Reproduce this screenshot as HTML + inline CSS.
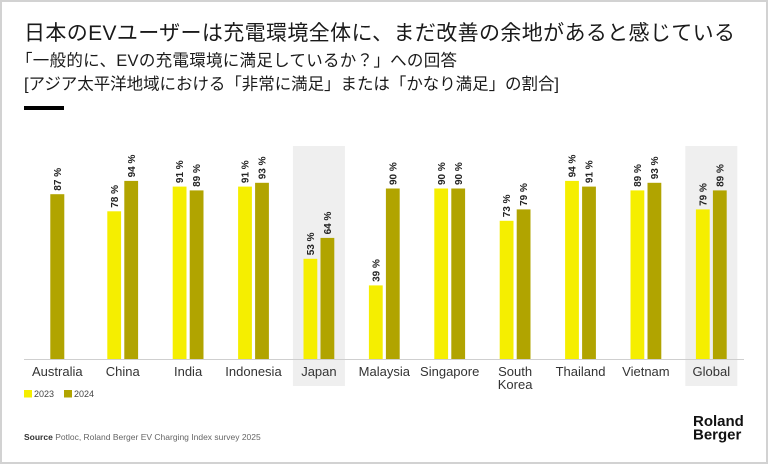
<!DOCTYPE html>
<html>
<head>
<meta charset="utf-8">
<style>
  html, body { margin: 0; padding: 0; background: #fff; }
  body { width: 768px; height: 464px; overflow: hidden; }
  svg { display: block; font-family: "Liberation Sans", "Noto Sans CJK JP", sans-serif; }
  .cat { font-size: 13px; fill: #333; text-anchor: middle; }
  .val { font-size: 10px; font-weight: bold; fill: #222; }
  .y23 { fill: #f5ee00; }
  .y24 { fill: #b1a400; }
</style>
</head>
<body>
<svg width="768" height="464" viewBox="0 0 768 464" xmlns="http://www.w3.org/2000/svg">
  <rect x="0" y="0" width="768" height="464" fill="#fff"/>
  <rect x="1" y="1" width="766" height="462" fill="none" stroke="#d2d2d2" stroke-width="2"/>

  <!-- Titles -->
  <text x="24" y="40" font-size="21" fill="#1a1a1a" textLength="711" lengthAdjust="spacing">日本のEVユーザーは充電環境全体に、まだ改善の余地があると感じている</text>
  <text x="16" y="66" font-size="16.5" fill="#1a1a1a" textLength="441" lengthAdjust="spacing">「一般的に、EVの充電環境に満足しているか？」への回答</text>
  <text x="24" y="89.5" font-size="16.5" fill="#1a1a1a" textLength="535" lengthAdjust="spacing">[アジア太平洋地域における「非常に満足」または「かなり満足」の割合]</text>
  <rect x="24" y="106" width="40" height="4" fill="#000"/>

  <!-- Highlight backgrounds -->
  <rect x="292.9" y="146" width="52" height="240" fill="#efefef"/>
  <rect x="685.3" y="146" width="52" height="240" fill="#efefef"/>

  <!-- Bars -->
  <!-- Australia -->
  <rect class="y24" x="50.3" y="194.2" width="14" height="165.3"/>
  <!-- China -->
  <rect class="y23" x="107.3" y="211.3" width="13.8" height="148.2"/>
  <rect class="y24" x="124.3" y="180.9" width="13.8" height="178.6"/>
  <!-- India -->
  <rect class="y23" x="172.7" y="186.6" width="13.8" height="172.9"/>
  <rect class="y24" x="189.7" y="190.4" width="13.8" height="169.1"/>
  <!-- Indonesia -->
  <rect class="y23" x="238.1" y="186.6" width="13.8" height="172.9"/>
  <rect class="y24" x="255.1" y="182.8" width="13.8" height="176.7"/>
  <!-- Japan -->
  <rect class="y23" x="303.5" y="258.8" width="13.8" height="100.7"/>
  <rect class="y24" x="320.5" y="237.9" width="13.8" height="121.6"/>
  <!-- Malaysia -->
  <rect class="y23" x="368.9" y="285.4" width="13.8" height="74.1"/>
  <rect class="y24" x="385.9" y="188.5" width="13.8" height="171"/>
  <!-- Singapore -->
  <rect class="y23" x="434.3" y="188.5" width="13.8" height="171"/>
  <rect class="y24" x="451.3" y="188.5" width="13.8" height="171"/>
  <!-- South Korea -->
  <rect class="y23" x="499.7" y="220.8" width="13.8" height="138.7"/>
  <rect class="y24" x="516.7" y="209.4" width="13.8" height="150.1"/>
  <!-- Thailand -->
  <rect class="y23" x="565.1" y="180.9" width="13.8" height="178.6"/>
  <rect class="y24" x="582.1" y="186.6" width="13.8" height="172.9"/>
  <!-- Vietnam -->
  <rect class="y23" x="630.5" y="190.4" width="13.8" height="169.1"/>
  <rect class="y24" x="647.5" y="182.8" width="13.8" height="176.7"/>
  <!-- Global -->
  <rect class="y23" x="695.9" y="209.4" width="13.8" height="150.1"/>
  <rect class="y24" x="712.9" y="190.4" width="13.8" height="169.1"/>

  <!-- Axis -->
  <line x1="24" y1="359.5" x2="744" y2="359.5" stroke="#cfcfcf" stroke-width="1"/>

  <!-- Value labels -->
  <text class="val" transform="translate(60.9,190.7) rotate(-90)">87 %</text>
  <text class="val" transform="translate(117.8,207.8) rotate(-90)">78 %</text>
  <text class="val" transform="translate(134.8,177.4) rotate(-90)">94 %</text>
  <text class="val" transform="translate(183.2,183.1) rotate(-90)">91 %</text>
  <text class="val" transform="translate(200.2,186.9) rotate(-90)">89 %</text>
  <text class="val" transform="translate(248.6,183.1) rotate(-90)">91 %</text>
  <text class="val" transform="translate(265.6,179.3) rotate(-90)">93 %</text>
  <text class="val" transform="translate(314,255.3) rotate(-90)">53 %</text>
  <text class="val" transform="translate(331,234.4) rotate(-90)">64 %</text>
  <text class="val" transform="translate(379.4,281.9) rotate(-90)">39 %</text>
  <text class="val" transform="translate(396.4,185) rotate(-90)">90 %</text>
  <text class="val" transform="translate(444.8,185) rotate(-90)">90 %</text>
  <text class="val" transform="translate(461.8,185) rotate(-90)">90 %</text>
  <text class="val" transform="translate(510.2,217.3) rotate(-90)">73 %</text>
  <text class="val" transform="translate(527.2,205.9) rotate(-90)">79 %</text>
  <text class="val" transform="translate(575.6,177.4) rotate(-90)">94 %</text>
  <text class="val" transform="translate(592.6,183.1) rotate(-90)">91 %</text>
  <text class="val" transform="translate(641,186.9) rotate(-90)">89 %</text>
  <text class="val" transform="translate(658,179.3) rotate(-90)">93 %</text>
  <text class="val" transform="translate(706.4,205.9) rotate(-90)">79 %</text>
  <text class="val" transform="translate(723.4,186.9) rotate(-90)">89 %</text>

  <!-- Category labels -->
  <text class="cat" x="57.3" y="376">Australia</text>
  <text class="cat" x="122.7" y="376">China</text>
  <text class="cat" x="188.1" y="376">India</text>
  <text class="cat" x="253.5" y="376">Indonesia</text>
  <text class="cat" x="318.9" y="376">Japan</text>
  <text class="cat" x="384.3" y="376">Malaysia</text>
  <text class="cat" x="449.7" y="376">Singapore</text>
  <text class="cat" x="515.1" y="376">South</text>
  <text class="cat" x="515.1" y="389">Korea</text>
  <text class="cat" x="580.5" y="376">Thailand</text>
  <text class="cat" x="645.9" y="376">Vietnam</text>
  <text class="cat" x="711.3" y="376">Global</text>

  <!-- Legend -->
  <rect x="24" y="390" width="8" height="7.5" fill="#f5ee00"/>
  <text x="34" y="397" font-size="9" fill="#444">2023</text>
  <rect x="64" y="390" width="8" height="7.5" fill="#b1a400"/>
  <text x="74" y="397" font-size="9" fill="#444">2024</text>

  <!-- Source -->
  <text x="24" y="440" font-size="8.5" fill="#666"><tspan font-weight="bold" fill="#333">Source</tspan> Potloc, Roland Berger EV Charging Index survey 2025</text>

  <!-- Logo -->
  <text x="693" y="426" font-size="15" font-weight="bold" fill="#111">Roland</text>
  <text x="693" y="439.5" font-size="15" font-weight="bold" fill="#111">Berger</text>
</svg>
</body>
</html>
